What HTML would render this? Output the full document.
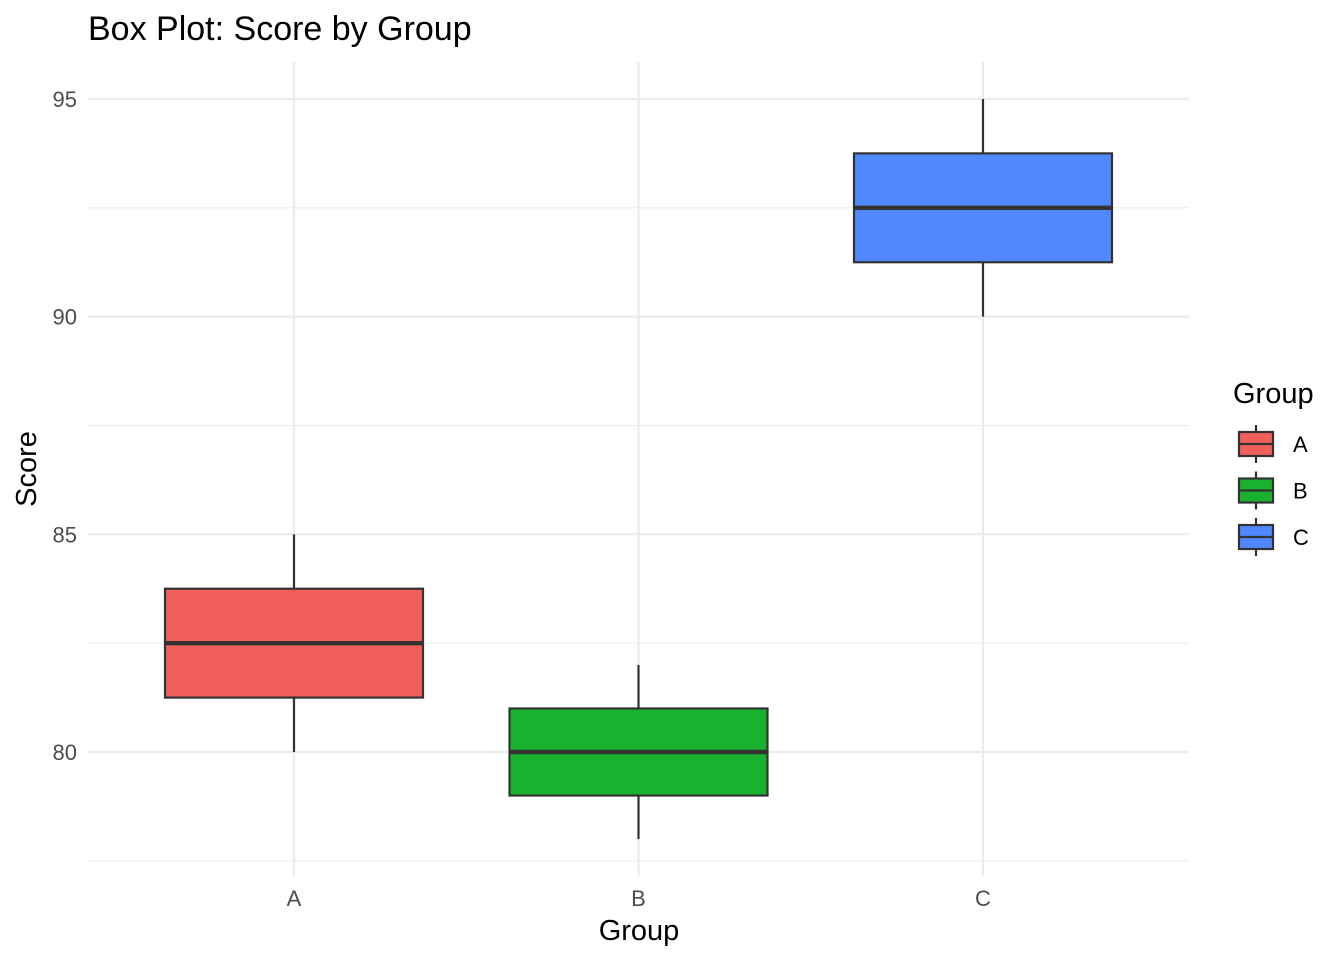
<!DOCTYPE html>
<html><head><meta charset="utf-8"><style>
body{margin:0;background:#fff;font-family:"Liberation Sans",Arial,sans-serif;}
</style></head><body>
<svg id="chart" width="1344" height="960" xmlns="http://www.w3.org/2000/svg" font-family="Liberation Sans, Arial, sans-serif">
<rect width="1344" height="960" fill="#fff"/>
<text x="88" y="40" font-size="34" fill="#000">Box Plot: Score by Group</text>
<g id="grid"></g>
<g id="boxes"></g>
<g id="axes"></g>
<text x="639" y="940" font-size="29" text-anchor="middle" fill="#000">Group</text>
<text transform="translate(36,469) rotate(-90)" font-size="29" text-anchor="middle" fill="#000">Score</text>
<g id="legend"></g>
</svg>
<script>
const categories=["A","B","C"];
const mins=[80,78,90];
const q1s=[81.25,79,91.25];
const medians=[82.5,80,92.5];
const q3s=[83.75,81,93.75];
const maxs=[85,82,95];
const colors=["#F25E5B","#19B22E","#4F88FF"];
const yTicks=[80,85,90,95];
const yMinor=[77.5,82.5,87.5,92.5];
const NS="http://www.w3.org/2000/svg";
const px0=88,px1=1189,py0=62,py1=876;
const y=v=>752-(v-80)*43.535;
const x=i=>294+i*344.5;
const bw=258;
function mk(p,tag,attrs){const e=document.createElementNS(NS,tag);for(const k in attrs)e.setAttribute(k,attrs[k]);p.appendChild(e);return e;}
const grid=document.getElementById('grid');
yMinor.forEach(v=>{const l=mk(grid,'line',{x1:px0,x2:px1,y1:y(v),y2:y(v),stroke:'#ebebeb','stroke-width':1.1});

});
yTicks.forEach(v=>{const l=mk(grid,'line',{x1:px0,x2:px1,y1:y(v),y2:y(v),stroke:'#ebebeb','stroke-width':2.2});

});
categories.forEach((c,i)=>{const l=mk(grid,'line',{x1:x(i),x2:x(i),y1:py0,y2:py1,stroke:'#ebebeb','stroke-width':2.2});

});
const axes=document.getElementById('axes');
yTicks.forEach(v=>{const t=mk(axes,'text',{x:77,y:y(v)+8,'font-size':22,'text-anchor':'end',fill:'#4d4d4d'});t.textContent=v;

});
categories.forEach((c,i)=>{const t=mk(axes,'text',{x:x(i),y:906,'font-size':22,'text-anchor':'middle',fill:'#4d4d4d'});t.textContent=c;

});
const boxes=document.getElementById('boxes');
categories.forEach((c,i)=>{
const g=mk(boxes,'g',{});


mk(g,'line',{x1:x(i),x2:x(i),y1:y(maxs[i]),y2:y(q3s[i]),stroke:'#333','stroke-width':2.2});
mk(g,'line',{x1:x(i),x2:x(i),y1:y(q1s[i]),y2:y(mins[i]),stroke:'#333','stroke-width':2.2});
mk(g,'rect',{x:x(i)-bw/2,y:y(q3s[i]),width:bw,height:y(q1s[i])-y(q3s[i]),fill:colors[i],stroke:'#333','stroke-width':2.2});
mk(g,'line',{x1:x(i)-bw/2,x2:x(i)+bw/2,y1:y(medians[i]),y2:y(medians[i]),stroke:'#333','stroke-width':4.4});
});
const lg=document.getElementById('legend');
const lt=mk(lg,'text',{x:1233,y:403,'font-size':29,fill:'#000'});lt.textContent='Group';


categories.forEach((c,i)=>{
const cy=444+i*46.5;
const g=mk(lg,'g',{});


mk(g,'line',{x1:1256,x2:1256,y1:cy-19,y2:cy+19,stroke:'#333','stroke-width':2.2});
mk(g,'rect',{x:1239,y:cy-12,width:34,height:24,fill:colors[i],stroke:'#333','stroke-width':2.2});
mk(g,'line',{x1:1239,x2:1273,y1:cy,y2:cy,stroke:'#333','stroke-width':2.2});
const t=mk(g,'text',{x:1293,y:cy+8,'font-size':22,fill:'#000'});t.textContent=c;
});
</script>
</body></html>
